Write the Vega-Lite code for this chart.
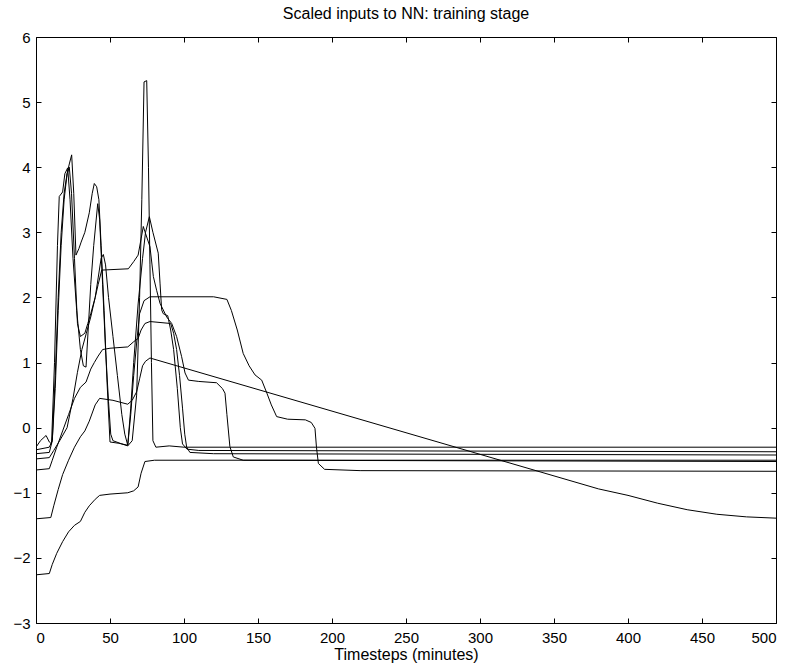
{
  "$schema": "https://vega.github.io/schema/vega-lite/v6.json",
  "width": 740,
  "height": 586,
  "autosize": {"type": "none"},
  "padding": {"left": 36, "top": 37, "right": 17, "bottom": 44},
  "title": {"text": "Scaled inputs to NN: training stage", "fontSize": 16, "fontWeight": "normal", "font": "Liberation Sans", "offset": 8, "color": "black"},
  "config": {
    "view": {"stroke": "black", "strokeWidth": 1},
    "font": "Liberation Sans",
    "axis": {"labelFont": "Liberation Sans", "labelFontSize": 15, "labelColor": "black", "tickColor": "black", "domain": false, "grid": false, "titleFont": "Liberation Sans", "titleFontSize": 16, "titleFontWeight": "normal", "titleColor": "black"}
  },
  "data": {"values": [
    {"s":"A","x":0,"y":-2.26},{"s":"A","x":9,"y":-2.24},{"s":"A","x":11,"y":-2.1},{"s":"A","x":14,"y":-1.93},{"s":"A","x":18,"y":-1.75},{"s":"A","x":22,"y":-1.6},{"s":"A","x":26,"y":-1.5},{"s":"A","x":30,"y":-1.44},{"s":"A","x":33,"y":-1.3},{"s":"A","x":36,"y":-1.2},{"s":"A","x":40,"y":-1.1},{"s":"A","x":43,"y":-1.04},{"s":"A","x":50,"y":-1.02},{"s":"A","x":62,"y":-1.0},{"s":"A","x":66,"y":-0.97},{"s":"A","x":69,"y":-0.91},{"s":"A","x":71,"y":-0.7},{"s":"A","x":73.6,"y":-0.52},{"s":"A","x":80,"y":-0.5},{"s":"A","x":150,"y":-0.5},{"s":"A","x":300,"y":-0.5},{"s":"A","x":500,"y":-0.5},
    {"s":"B","x":0,"y":-1.4},{"s":"B","x":10,"y":-1.38},{"s":"B","x":12,"y":-1.2},{"s":"B","x":15,"y":-0.95},{"s":"B","x":18,"y":-0.72},{"s":"B","x":22,"y":-0.5},{"s":"B","x":26,"y":-0.3},{"s":"B","x":30,"y":-0.14},{"s":"B","x":33,"y":-0.05},{"s":"B","x":36,"y":0.1},{"s":"B","x":40,"y":0.35},{"s":"B","x":43,"y":0.45},{"s":"B","x":52,"y":0.42},{"s":"B","x":62,"y":0.36},{"s":"B","x":65,"y":0.42},{"s":"B","x":68,"y":0.55},{"s":"B","x":70,"y":0.75},{"s":"B","x":72,"y":0.95},{"s":"B","x":74,"y":1.02},{"s":"B","x":77,"y":1.07},{"s":"B","x":380,"y":-0.94},{"s":"B","x":400,"y":-1.04},{"s":"B","x":420,"y":-1.16},{"s":"B","x":440,"y":-1.26},{"s":"B","x":460,"y":-1.33},{"s":"B","x":480,"y":-1.37},{"s":"B","x":500,"y":-1.39},
    {"s":"C","x":0,"y":-0.3},{"s":"C","x":3,"y":-0.2},{"s":"C","x":6.8,"y":-0.12},{"s":"C","x":9,"y":-0.22},{"s":"C","x":10.5,"y":-0.25},{"s":"C","x":12.5,"y":1.0},{"s":"C","x":14.5,"y":2.8},{"s":"C","x":15.7,"y":3.55},{"s":"C","x":18,"y":3.62},{"s":"C","x":19.5,"y":3.9},{"s":"C","x":21.4,"y":3.99},{"s":"C","x":23,"y":3.5},{"s":"C","x":25,"y":2.6},{"s":"C","x":27.5,"y":1.8},{"s":"C","x":30,"y":1.2},{"s":"C","x":32,"y":0.95},{"s":"C","x":33.8,"y":0.93},{"s":"C","x":35.5,"y":1.6},{"s":"C","x":37,"y":2.2},{"s":"C","x":39,"y":2.8},{"s":"C","x":41.7,"y":3.44},{"s":"C","x":43,"y":3.2},{"s":"C","x":45,"y":2.2},{"s":"C","x":47,"y":1.2},{"s":"C","x":49,"y":0.4},{"s":"C","x":50.5,"y":-0.1},{"s":"C","x":52,"y":-0.2},{"s":"C","x":58,"y":-0.25},{"s":"C","x":62,"y":-0.28},{"s":"C","x":65,"y":-0.2},{"s":"C","x":68,"y":0.5},{"s":"C","x":70,"y":2.0},{"s":"C","x":71.5,"y":3.5},{"s":"C","x":73,"y":5.31},{"s":"C","x":74.8,"y":5.33},{"s":"C","x":76,"y":4.0},{"s":"C","x":77,"y":2.5},{"s":"C","x":78,"y":1.0},{"s":"C","x":79,"y":-0.2},{"s":"C","x":81,"y":-0.3},{"s":"C","x":90,"y":-0.28},{"s":"C","x":100,"y":-0.3},{"s":"C","x":500,"y":-0.3},
    {"s":"D","x":0,"y":-0.34},{"s":"D","x":9,"y":-0.3},{"s":"D","x":11,"y":-0.2},{"s":"D","x":13,"y":0.8},{"s":"D","x":15,"y":2.0},{"s":"D","x":17,"y":3.0},{"s":"D","x":19,"y":3.6},{"s":"D","x":21,"y":3.9},{"s":"D","x":22.5,"y":4.0},{"s":"D","x":24,"y":3.6},{"s":"D","x":26,"y":2.6},{"s":"D","x":28,"y":1.6},{"s":"D","x":30,"y":1.4},{"s":"D","x":33,"y":1.45},{"s":"D","x":35,"y":1.6},{"s":"D","x":37,"y":1.75},{"s":"D","x":40,"y":2.0},{"s":"D","x":42,"y":2.2},{"s":"D","x":44.4,"y":2.42},{"s":"D","x":62.4,"y":2.44},{"s":"D","x":66,"y":2.55},{"s":"D","x":69,"y":2.65},{"s":"D","x":71,"y":2.9},{"s":"D","x":72.5,"y":3.09},{"s":"D","x":73.6,"y":3.01},{"s":"D","x":77,"y":2.78},{"s":"D","x":79.3,"y":2.32},{"s":"D","x":81.5,"y":2.11},{"s":"D","x":83.8,"y":1.91},{"s":"D","x":88.3,"y":1.7},{"s":"D","x":91.7,"y":1.6},{"s":"D","x":95,"y":1.4},{"s":"D","x":98.4,"y":1.09},{"s":"D","x":100.7,"y":0.84},{"s":"D","x":103,"y":0.73},{"s":"D","x":110,"y":0.71},{"s":"D","x":122,"y":0.69},{"s":"D","x":126,"y":0.6},{"s":"D","x":127.7,"y":0.53},{"s":"D","x":129,"y":0.2},{"s":"D","x":131,"y":-0.29},{"s":"D","x":133.3,"y":-0.45},{"s":"D","x":140,"y":-0.5},{"s":"D","x":500,"y":-0.52},
    {"s":"E","x":0,"y":-0.4},{"s":"E","x":9,"y":-0.38},{"s":"E","x":11,"y":-0.2},{"s":"E","x":13,"y":0.6},{"s":"E","x":15,"y":1.8},{"s":"E","x":17,"y":2.8},{"s":"E","x":19,"y":3.5},{"s":"E","x":21,"y":3.9},{"s":"E","x":22.5,"y":4.05},{"s":"E","x":24.1,"y":4.19},{"s":"E","x":25.5,"y":3.6},{"s":"E","x":27,"y":2.65},{"s":"E","x":29,"y":2.75},{"s":"E","x":30.5,"y":2.85},{"s":"E","x":33,"y":3.0},{"s":"E","x":36,"y":3.3},{"s":"E","x":38,"y":3.6},{"s":"E","x":39.4,"y":3.75},{"s":"E","x":41,"y":3.7},{"s":"E","x":42.5,"y":3.5},{"s":"E","x":44,"y":2.8},{"s":"E","x":46,"y":1.8},{"s":"E","x":48,"y":0.7},{"s":"E","x":50,"y":-0.22},{"s":"E","x":56,"y":-0.24},{"s":"E","x":62,"y":-0.27},{"s":"E","x":64,"y":0.3},{"s":"E","x":66,"y":1.0},{"s":"E","x":69,"y":1.9},{"s":"E","x":72,"y":2.6},{"s":"E","x":74,"y":3.0},{"s":"E","x":76.6,"y":3.24},{"s":"E","x":79,"y":3.0},{"s":"E","x":82.6,"y":2.68},{"s":"E","x":83.8,"y":2.22},{"s":"E","x":84.9,"y":1.81},{"s":"E","x":86,"y":1.75},{"s":"E","x":89,"y":1.72},{"s":"E","x":91,"y":1.5},{"s":"E","x":93,"y":1.2},{"s":"E","x":95.5,"y":0.6},{"s":"E","x":97.5,"y":0.0},{"s":"E","x":99,"y":-0.25},{"s":"E","x":102,"y":-0.33},{"s":"E","x":110,"y":-0.35},{"s":"E","x":500,"y":-0.37},
    {"s":"P","x":0,"y":-0.65},{"s":"P","x":9,"y":-0.63},{"s":"P","x":11,"y":-0.5},{"s":"P","x":14,"y":-0.3},{"s":"P","x":18,"y":-0.05},{"s":"P","x":22,"y":0.2},{"s":"P","x":26,"y":0.45},{"s":"P","x":30,"y":0.62},{"s":"P","x":33.8,"y":0.7},{"s":"P","x":37,"y":0.9},{"s":"P","x":39.4,"y":1.0},{"s":"P","x":42,"y":1.1},{"s":"P","x":45,"y":1.2},{"s":"P","x":50,"y":1.22},{"s":"P","x":62,"y":1.24},{"s":"P","x":66,"y":1.32},{"s":"P","x":69,"y":1.37},{"s":"P","x":71,"y":1.5},{"s":"P","x":73.6,"y":1.6},{"s":"P","x":77,"y":1.63},{"s":"P","x":91,"y":1.6},{"s":"P","x":93,"y":1.45},{"s":"P","x":95,"y":1.2},{"s":"P","x":97,"y":0.8},{"s":"P","x":99,"y":0.3},{"s":"P","x":100.5,"y":-0.1},{"s":"P","x":101.8,"y":-0.3},{"s":"P","x":104,"y":-0.38},{"s":"P","x":120,"y":-0.4},{"s":"P","x":500,"y":-0.42},
    {"s":"T","x":0,"y":-0.48},{"s":"T","x":9,"y":-0.46},{"s":"T","x":12,"y":-0.35},{"s":"T","x":16,"y":-0.2},{"s":"T","x":21,"y":0.0},{"s":"T","x":25,"y":0.45},{"s":"T","x":28,"y":0.85},{"s":"T","x":31,"y":1.2},{"s":"T","x":34,"y":1.45},{"s":"T","x":37,"y":1.7},{"s":"T","x":40,"y":2.0},{"s":"T","x":42,"y":2.3},{"s":"T","x":44,"y":2.6},{"s":"T","x":45.5,"y":2.66},{"s":"T","x":47,"y":2.5},{"s":"T","x":49,"y":2.0},{"s":"T","x":52,"y":1.4},{"s":"T","x":55,"y":0.8},{"s":"T","x":58,"y":0.2},{"s":"T","x":60,"y":-0.1},{"s":"T","x":62,"y":-0.27},{"s":"T","x":64,"y":0.2},{"s":"T","x":66,"y":0.8},{"s":"T","x":68,"y":1.3},{"s":"T","x":70,"y":1.75},{"s":"T","x":73,"y":1.95},{"s":"T","x":77,"y":2.01},{"s":"T","x":120,"y":2.01},{"s":"T","x":129,"y":1.97},{"s":"T","x":132,"y":1.8},{"s":"T","x":136,"y":1.5},{"s":"T","x":140,"y":1.14},{"s":"T","x":144,"y":0.95},{"s":"T","x":148,"y":0.81},{"s":"T","x":152.5,"y":0.73},{"s":"T","x":156,"y":0.53},{"s":"T","x":159,"y":0.35},{"s":"T","x":162.6,"y":0.17},{"s":"T","x":170,"y":0.13},{"s":"T","x":182,"y":0.12},{"s":"T","x":186,"y":0.08},{"s":"T","x":188.5,"y":-0.01},{"s":"T","x":189.5,"y":-0.3},{"s":"T","x":190.8,"y":-0.55},{"s":"T","x":195,"y":-0.64},{"s":"T","x":219,"y":-0.66},{"s":"T","x":500,"y":-0.67}
  ]},
  "layer": [
    {
      "mark": {"type": "line", "color": "black", "strokeWidth": 1, "clip": true},
      "encoding": {
        "x": {"field": "x", "type": "quantitative", "scale": {"domain": [0, 500], "nice": false, "zero": false},
              "axis": {"orient": "bottom", "values": [0,50,100,150,200,250,300,350,400,450,500], "tickSize": -5, "labelPadding": 12, "title": "Timesteps (minutes)", "titlePadding": 1}},
        "y": {"field": "y", "type": "quantitative", "scale": {"domain": [-3, 6], "nice": false, "zero": false},
              "axis": {"orient": "left", "values": [-3,-2,-1,0,1,2,3,4,5,6], "tickSize": -5, "labelPadding": 11, "title": null}},
        "detail": {"field": "s"},
        "order": {"field": "x", "type": "quantitative"}
      }
    },
    {
      "mark": {"type": "line", "opacity": 0},
      "encoding": {
        "x": {"field": "x", "type": "quantitative", "scale": {"domain": [0, 500], "nice": false, "zero": false},
              "axis": {"orient": "top", "values": [0,50,100,150,200,250,300,350,400,450,500], "tickSize": -5, "labels": false, "title": null}},
        "y": {"field": "y", "type": "quantitative", "scale": {"domain": [-3, 6], "nice": false, "zero": false},
              "axis": {"orient": "right", "values": [-3,-2,-1,0,1,2,3,4,5,6], "tickSize": -5, "labels": false, "title": null}},
        "detail": {"field": "s"}
      }
    }
  ],
  "resolve": {"scale": {"x": "independent", "y": "independent"}, "axis": {"x": "independent", "y": "independent"}}
}
